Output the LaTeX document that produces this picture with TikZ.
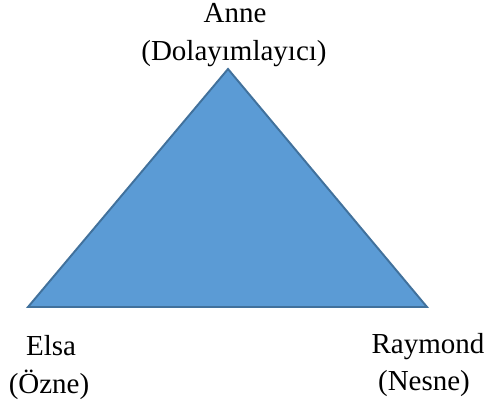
\documentclass[tikz,border=0pt]{standalone}
\usepackage{fontspec}
\setmainfont{Liberation Serif}
\definecolor{triblue}{HTML}{5B9BD5}
\definecolor{triedge}{HTML}{41719C}
\begin{document}
\begin{tikzpicture}[x=0.4138pt, y=-0.4138pt, font=\fontsize{12}{15}\selectfont]
    \useasboundingbox (0,0) rectangle (484,407);
    \coordinate (A) at (228,69);
    \coordinate (E) at (28,307);
    \coordinate (R) at (427,307);
    \draw[fill=triblue, draw=triedge, line width=0.8pt] (A) -- (E) -- (R) -- cycle;
    \node[anchor=base] (anne) at (235,22) {Anne};
    \node[anchor=base] (anneRole) at (234,60) {(Dolayımlayıcı)};
    \node[anchor=base] (elsa) at (51,355) {Elsa};
    \node[anchor=base] (elsaRole) at (49,393) {(Özne)};
    \node[anchor=base] (ray) at (428,353) {Raymond};
    \node[anchor=base] (rayRole) at (424,390) {(Nesne)};
\end{tikzpicture}
\end{document}
